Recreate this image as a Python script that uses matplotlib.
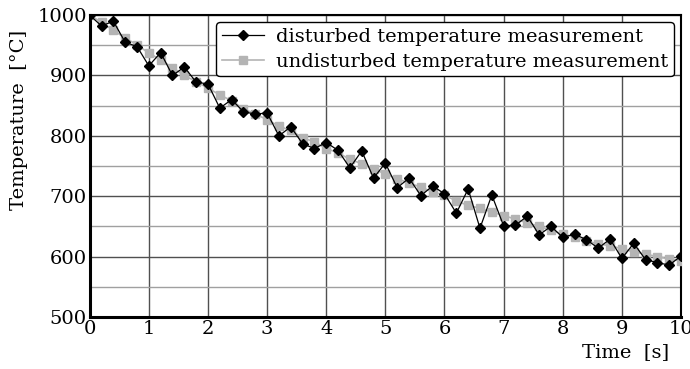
import numpy as np
import matplotlib
matplotlib.use("Agg")
import matplotlib.pyplot as plt
from matplotlib.ticker import MultipleLocator

# time axis in seconds, one sample every 0.2 s
time_s = np.round(np.arange(0, 10.01, 0.2), 1)

disturbed = [1000, 982, 990, 955, 948, 916, 938, 900, 914, 889,
             886, 846, 860, 840, 836, 838, 800, 815, 787, 779,
             789, 776, 747, 775, 730, 755, 714, 730, 701, 717,
             704, 672, 712, 647, 702, 651, 652, 667, 636, 650,
             632, 637, 628, 614, 629, 597, 622, 595, 590, 586,
             601]

undisturbed = [1000, 988, 975, 962, 951, 937, 926, 913, 900, 890,
               879, 868, 858, 845, 836, 827, 816, 809, 797, 790,
               779, 772, 761, 754, 745, 737, 729, 722, 715, 707,
               702, 692, 685, 680, 674, 668, 662, 656, 650, 644,
               637, 633, 626, 621, 618, 613, 608, 604, 600, 596,
               593]

plt.rcParams['font.family'] = ['DejaVu Serif']

fig = plt.figure(figsize=(6.9, 3.69), dpi=100)
ax = fig.add_axes([0.130, 0.141, 0.857, 0.818])

l_und, = ax.plot(time_s, undisturbed, color='#b4b4b4', lw=1.2, marker='s',
                 markersize=5.5, markerfacecolor='#b4b4b4', markeredgecolor='#b4b4b4',
                 label='undisturbed temperature measurement', zorder=3)
l_dis, = ax.plot(time_s, disturbed, color='black', lw=0.9, marker='D',
                 markersize=5.5, markerfacecolor='black', markeredgecolor='black',
                 label='disturbed temperature measurement', zorder=4)

ax.set_xlim(0, 10)
ax.set_ylim(500, 1000)
ax.xaxis.set_major_locator(MultipleLocator(1))
ax.yaxis.set_major_locator(MultipleLocator(100))
ax.yaxis.set_minor_locator(MultipleLocator(50))
ax.grid(True, which='major', color='#505050', lw=1.0)
ax.grid(True, which='minor', axis='y', color='#a0a0a0', lw=1.0)
ax.set_axisbelow(True)

ax.tick_params(which='both', length=0, labelsize=14, pad=2)
for side in ['left', 'bottom']:
    ax.spines[side].set_linewidth(2.2)
for side in ['top', 'right']:
    ax.spines[side].set_linewidth(1.5)

leg = ax.legend(handles=[l_dis, l_und], loc='upper right', fontsize=14,
                frameon=True, fancybox=True, framealpha=1, edgecolor='black',
                handlelength=2.2, borderpad=0.3, labelspacing=0.35,
                handletextpad=0.6, borderaxespad=0.35)
leg.get_frame().set_linewidth(1.0)

fig.text(0.97, 0.045, 'Time  [s]', fontsize=14, ha='right', va='center')
fig.text(0.028, 0.675, 'Temperature  [°C]', fontsize=14, rotation=90,
         ha='center', va='center')

fig.savefig('out.png', dpi=100)
